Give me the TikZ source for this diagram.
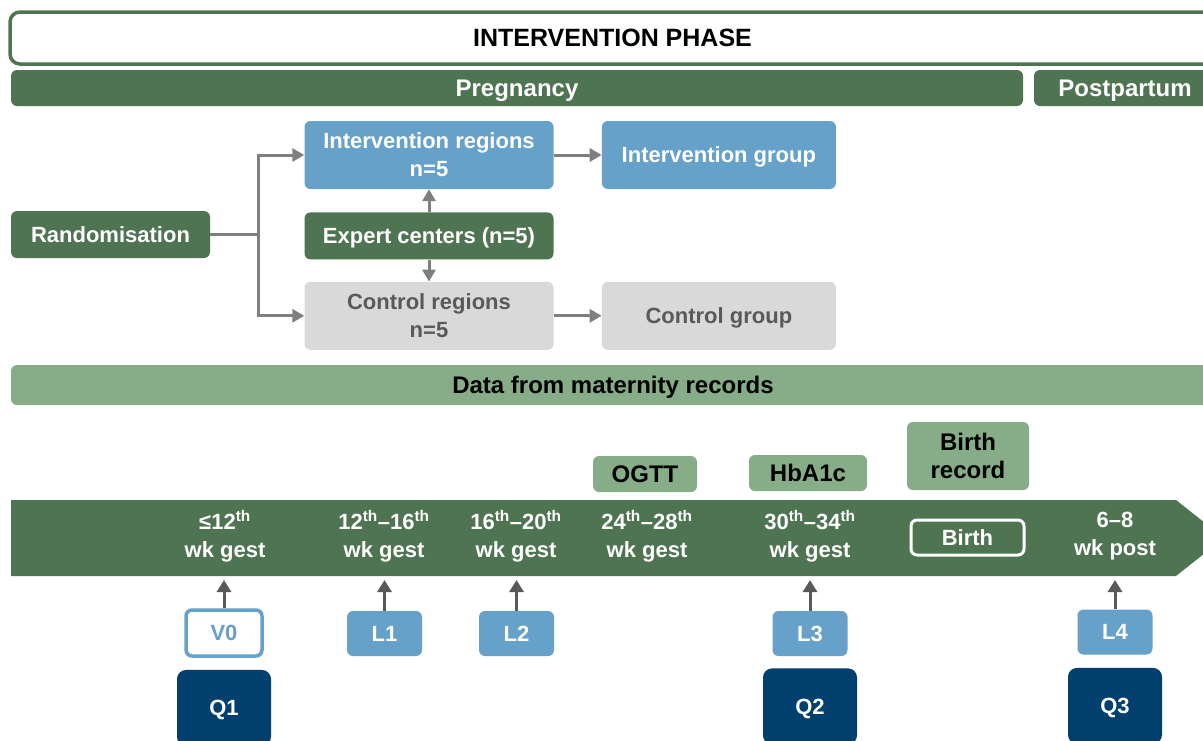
\documentclass[tikz,border=0pt]{standalone}
\usepackage{fontspec}
\setmainfont{Liberation Sans}
\usepackage{tikz}
\usetikzlibrary{positioning, arrows.meta}
\definecolor{darkGreen}{HTML}{4E7451}
\definecolor{paleGreen}{HTML}{86AD88}
\definecolor{regionBlue}{HTML}{65A1C9}
\definecolor{controlGray}{HTML}{D9D9D9}
\definecolor{controlText}{HTML}{595959}
\definecolor{navyBlue}{HTML}{003F6E}
\definecolor{flowGray}{HTML}{7F7F7F}
\definecolor{tickGray}{HTML}{595959}

\newcommand{\bodyfont}{\fontsize{22}{28}\selectfont\bfseries}
\newcommand{\headfont}{\fontsize{24}{28}\selectfont\bfseries}

\tikzset{
  box/.style={rounded corners=6pt, inner sep=0pt, align=center, font=\bodyfont},
  oneline/.style={text height=15.8pt, text depth=0pt},
  headline/.style={font=\headfont, text height=17.2pt, text depth=0pt},
  greenbar/.style={box, fill=darkGreen, text=white},
  palebox/.style={box, fill=paleGreen, text=black},
  bluebox/.style={box, fill=regionBlue, text=white},
  graybox/.style={box, fill=controlGray, text=controlText},
  visitbox/.style={box, oneline, fill=regionBlue, text=white,
    minimum width=75, minimum height=45},
  quest/.style={box, oneline, rounded corners=9pt, fill=navyBlue, text=white,
    minimum width=94, minimum height=76},
  weeks/.style={align=center, text=white, inner sep=0pt, font=\bodyfont},
  flow/.style={draw=flowGray, line width=3pt, -{Triangle[length=12pt, width=13pt]}},
  tick/.style={draw=tickGray, line width=3pt, -{Triangle[length=12pt, width=14pt]}}
}

\newcommand{\nth}[1]{#1\textsuperscript{th}}

\begin{document}
\begin{tikzpicture}[x=1pt, y=-1pt]
\useasboundingbox (0,0) rectangle (1203,740);
\clip (0,0) rectangle (1203,740);

% phase headers
\node[box, headline, font=\fontsize{25}{28}\selectfont\bfseries,
  draw=darkGreen, line width=3.5pt, fill=white, text=black,
  rounded corners=10pt, minimum width=1205, minimum height=52]
  (phase) at (612.5,38) {INTERVENTION PHASE};
\node[greenbar, headline, minimum width=1012, minimum height=36]
  (pregnancy) at (517,88) {Pregnancy};
\node[greenbar, headline, minimum width=182, minimum height=36]
  (postpartum) at (1125,88) {Postpartum};

% randomisation
\node[greenbar, oneline, minimum width=199, minimum height=47]
  (rand) at (110.5,234.5) {Randomisation};
\node[bluebox, minimum width=249, minimum height=68]
  (intReg) at (429,155) {Intervention regions\\n=5};
\node[greenbar, oneline, minimum width=249, minimum height=47, below=23pt of intReg]
  (expert) {Expert centers (n=5)};
\node[graybox, minimum width=249, minimum height=68, below=22pt of expert]
  (ctrlReg) {Control regions\\n=5};
\node[bluebox, oneline, minimum width=234, minimum height=68, right=48pt of intReg]
  (intGroup) {Intervention group};
\node[graybox, oneline, minimum width=234, minimum height=68, right=48pt of ctrlReg]
  (ctrlGroup) {Control group};

\draw[flow] (rand.east) -- ++(48,0) |- (intReg.west);
\draw[flow] (rand.east) -- ++(48,0) |- (ctrlReg.west);
\draw[flow] (expert.north) -- (intReg.south);
\draw[flow] (expert.south) -- (ctrlReg.north);
\draw[flow] (intReg.east) -- (intGroup.west);
\draw[flow] (ctrlReg.east) -- (ctrlGroup.west);

\node[box, headline, fill=paleGreen, text=black, minimum width=1204, minimum height=40]
  (records) at (613,385) {Data from maternity records};

% timeline
\fill[darkGreen] (11,500) -- (1176,500) -- (1224,538) -- (1176,576) -- (11,576) -- cycle;
\coordinate (below) at (0,580);

\node[weeks] (w12) at (225,536) {≤\nth{12}\\wk gest};
\node[weeks] (w16) at (384,536) {\nth{12}--\nth{16}\\wk gest};
\node[weeks] (w20) at (516,536) {\nth{16}--\nth{20}\\wk gest};
\node[weeks] (w28) at (647,536) {\nth{24}--\nth{28}\\wk gest};
\node[weeks] (w34) at (810,536) {\nth{30}--\nth{34}\\wk gest};
\node[box, oneline, draw=white, line width=3pt, text=white, minimum width=113, minimum height=35]
  (birth) at (967.5,537.5) {Birth};
\node[weeks] (wpost) at (1115,536) {6--8\\wk post};

% measurements from records
\node[palebox, headline, minimum width=104, minimum height=36] (ogtt) at (645,474) {OGTT};
\node[palebox, headline, minimum width=118, minimum height=36] (hba) at (808,473) {HbA1c};
\node[palebox, font=\headfont, minimum width=122, minimum height=68] (brec) at (968,456) {Birth\\record};

% visits and questionnaires
\node[visitbox, fill=white, draw=regionBlue, line width=3.5pt, text=regionBlue,
  minimum width=76, minimum height=46] (V0) at (224,633) {V0};
\node[visitbox] (L1) at (384.5,633.5) {L1};
\node[visitbox] (L2) at (516.5,633.5) {L2};
\node[visitbox] (L3) at (810,633.5) {L3};
\node[visitbox] (L4) at (1115,632) {L4};

\node[quest, below=12pt of V0] (Q1) {Q1};
\node[quest, below=12pt of L3] (Q2) {Q2};
\node[quest, below=13pt of L4] (Q3) {Q3};

\foreach \v in {V0, L1, L2, L3, L4}
  \draw[tick] (\v.north) -- (\v.north |- below);

\end{tikzpicture}
\end{document}
